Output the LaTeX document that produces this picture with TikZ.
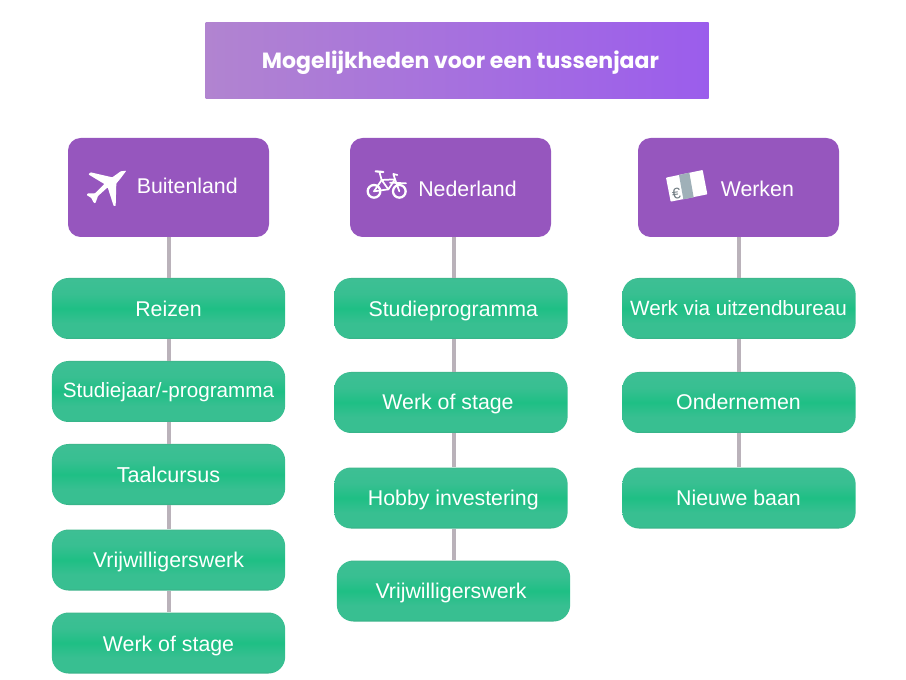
\documentclass[tikz,border=0pt]{standalone}
\usepackage{fontspec}
\setmainfont{Liberation Sans}
\newfontfamily\titlefont{Poppins}[BoldFont={* Bold}]
\definecolor{purp}{HTML}{9656BE}
\definecolor{linegray}{HTML}{BAB2BA}
\definecolor{iconbar}{HTML}{9FB0B8}
\definecolor{titleL}{HTML}{B184D0}
\definecolor{titleR}{HTML}{9B5DEC}
\pgfdeclareverticalshading{greenbar}{100bp}{
  rgb(0bp)=(0.22,0.68,0.52);
  rgb(25bp)=(0.22,0.68,0.52);
  rgb(27bp)=(0.22,0.75,0.57);
  rgb(38bp)=(0.22,0.75,0.57);
  rgb(50bp)=(0.12,0.75,0.52);
  rgb(62bp)=(0.22,0.75,0.57);
  rgb(74bp)=(0.24,0.75,0.58);
  rgb(75bp)=(0.24,0.72,0.55);
  rgb(100bp)=(0.24,0.72,0.55)}
\tikzset{
  titlebox/.style={draw=none,left color=titleL,right color=titleR,minimum width=377.25pt,minimum height=57pt,inner sep=0pt},
  headbox/.style={fill=purp,rounded corners=9.5pt,minimum width=150.75pt,minimum height=74.25pt,inner sep=0pt},
  itembox/.style={shading=greenbar,rounded corners=12.5pt,minimum width=175pt,minimum height=45.75pt,inner sep=0pt},
  label/.style={text=white,font=\fontsize{16}{19}\selectfont,inner sep=0pt,anchor=center,text height=11.5pt,text depth=0pt},
  labelsmall/.style={label,font=\fontsize{15.5}{19}\selectfont},
  labelwide/.style={label,font=\fontsize{16.2}{19}\selectfont},
  conn/.style={draw=linegray,line width=3pt},
  iconline/.style={draw=white,line width=1.3pt,line cap=round,line join=round}
}
\newcommand{\gitem}[7][label]{%
  \node[itembox] (#2) at (#3,#4) {};
  \node[#1] (#2t) at (#5,#6) {#7};}
\begin{document}
\begin{tikzpicture}[x=0.75pt,y=-0.75pt]
\useasboundingbox (0,0) rectangle (906,680);
% title
\node[titlebox] (title) at (457,60.5) {};
\node[text=white,font=\titlefont\bfseries\fontsize{16.5}{20}\selectfont,inner sep=0pt,text height=12pt,text depth=0pt] (titlet) at (460.5,60.5) {Mogelijkheden voor een tussenjaar};
% headers
\node[headbox] (h1) at (168.5,187.5) {};
\node[headbox] (h2) at (450.5,187.5) {};
\node[headbox] (h3) at (738.5,187.5) {};
\node[label] (h1t) at (187.3,186) {Buitenland};
\node[label] (h2t) at (467.5,188.5) {Nederland};
\node[label] (h3t) at (757.3,188.5) {Werken};
% items
\gitem{a1}{168.5}{308.5}{168.5}{308.5}{Reizen}
\gitem[labelsmall]{a2}{168.5}{391.5}{168.5}{390}{Studiejaar/-programma}
\gitem[labelwide]{a3}{168.5}{474.5}{168.5}{474.5}{Taalcursus}
\gitem{a4}{168.5}{560}{168.5}{560}{Vrijwilligerswerk}
\gitem{a5}{168.5}{643}{168.5}{643.5}{Werk of stage}
\gitem{b1}{451}{308.5}{453.3}{308.5}{Studieprogramma}
\gitem{b2}{451}{402.5}{448}{401.5}{Werk of stage}
\gitem{b3}{451}{498}{453.3}{498}{Hobby investering}
\gitem{b4}{453.5}{591}{451}{591}{Vrijwilligerswerk}
\gitem[labelsmall]{c1}{739}{308.5}{738.5}{308}{Werk via uitzendbureau}
\gitem{c2}{739}{402.5}{738.5}{401.5}{Ondernemen}
\gitem{c3}{739}{498}{738.5}{498}{Nieuwe baan}
% connectors
\draw[conn] (h1.south) -- (a1.north -| h1.south);
\draw[conn] (a1.south -| h1.south) -- (a2.north -| h1.south);
\draw[conn] (a2.south -| h1.south) -- (a3.north -| h1.south);
\draw[conn] (a3.south -| h1.south) -- (a4.north -| h1.south);
\draw[conn] (a4.south -| h1.south) -- (a5.north -| h1.south);
\draw[conn] (h2.south -| b4.north) -- (b1.north -| b4.north);
\draw[conn] (b1.south -| b4.north) -- (b2.north -| b4.north);
\draw[conn] (b2.south -| b4.north) -- (b3.north -| b4.north);
\draw[conn] (b3.south -| b4.north) -- (b4.north);
\draw[conn] (h3.south) -- (c1.north -| h3.south);
\draw[conn] (c1.south -| h3.south) -- (c2.north -| h3.south);
\draw[conn] (c2.south -| h3.south) -- (c3.north -| h3.south);
% plane icon
\begin{scope}[shift={(50,130)},x=0.25pt,y=-0.25pt]
\fill[white,rounded corners=0.5pt] (229,122) -- (208,150) -- (199,160) -- (197,228) -- (191,228) -- (173,172) -- (144,198) -- (136,220) -- (131,218) -- (124,204) -- (110,195) -- (113,190) -- (135,190) -- (163,162) -- (115,133) -- (122,127) -- (187,142) -- (212,124) -- cycle;
\end{scope}
% bicycle icon
\begin{scope}[shift={(340,130)},x=0.25pt,y=-0.25pt]
\draw[iconline,line width=1.7pt] (102,184) circle[radius=19];
\draw[iconline,line width=1.7pt] (178,184) circle[radius=19];
\draw[iconline] (102,184) -- (125,150) -- (165,148) -- (178,184);
\draw[iconline] (125,150) -- (145,178) -- (165,148);
\draw[iconline] (102,184) -- (145,178);
\draw[iconline] (118,125) -- (125,150);
\draw[iconline,line width=1.6pt] (107,124) -- (130,126);
\draw[iconline] (165,148) -- (160,132) -- (172,135);
\draw[iconline] (150,158) -- (198,160);
\end{scope}
% money icon
\begin{scope}[shift={(630,130)},x=0.25pt,y=-0.25pt]
\fill[white,rounded corners=0.5pt] (108,143) -- (218,120) -- (232,193) -- (122,215) -- cycle;
\fill[iconbar] (147,135) -- (178,128) -- (191,202) -- (160,208) -- cycle;
\node[text=iconbar!70!black,font=\fontsize{11.5}{12}\selectfont,inner sep=0pt,rotate=8] (euro) at (139,190) {€};
\end{scope}
\end{tikzpicture}
\end{document}
